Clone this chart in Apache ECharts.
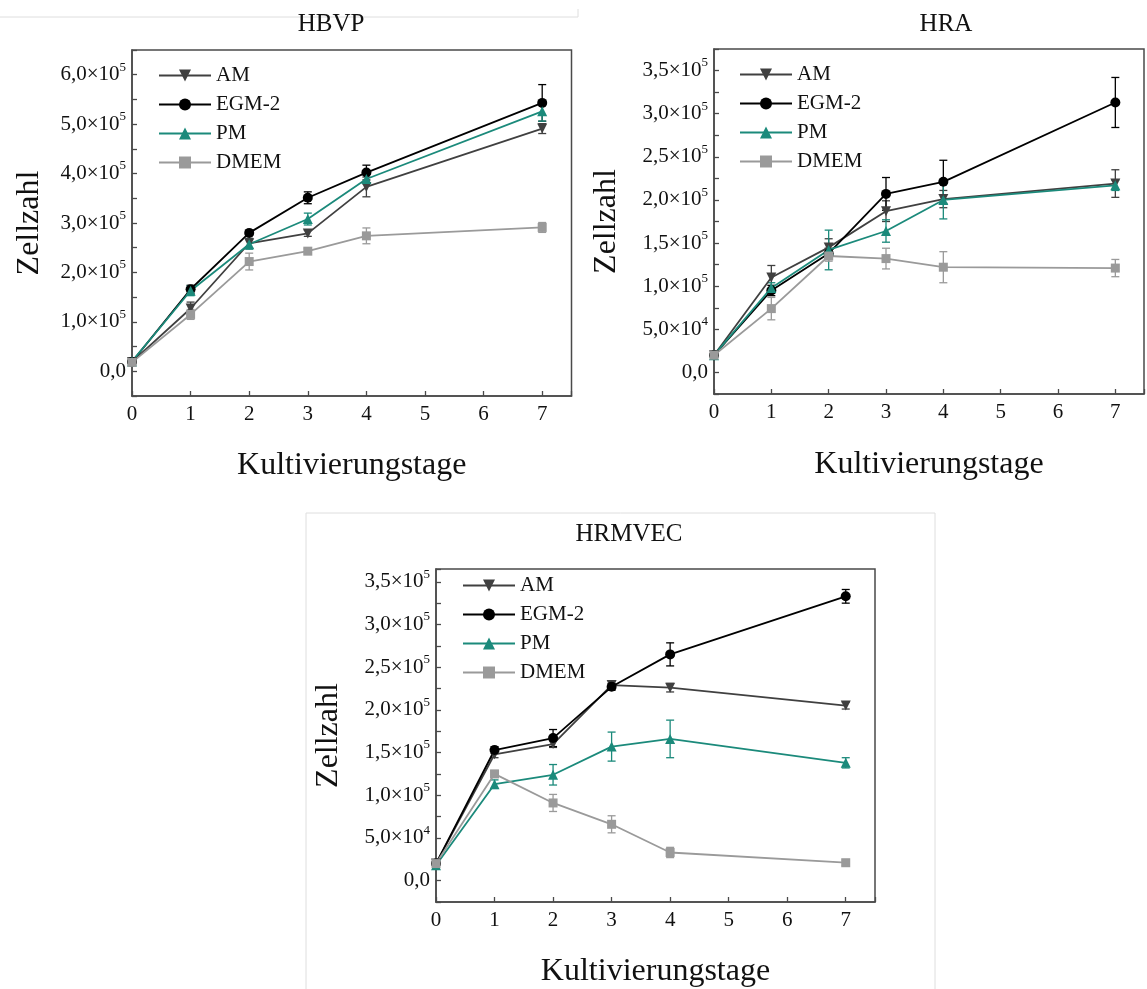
<!DOCTYPE html>
<html><head><meta charset="utf-8">
<script src="https://cdn.jsdelivr.net/npm/echarts@6/dist/echarts.min.js"></script>
<style>html,body{margin:0;padding:0;background:#fff}#c{width:1147px;height:989px}</style>
</head><body><div id="c"></div>
<script>
// ---------- data ----------
const days = [0, 1, 2, 3, 4, 7];
const seriesNames = ['AM', 'EGM-2', 'PM', 'DMEM'];
const panelTitles = ['HBVP', 'HRA', 'HRMVEC'];
const xAxisTitle = 'Kultivierungstage';
const yAxisTitle = 'Zellzahl';

// HBVP
const hbvpAM       = [19000, 127000, 259000, 279000, 373000, 491000];
const hbvpAMErr    = [3000, 13000, 10000, 6000, 20000, 10000];
const hbvpEGM      = [19000, 166000, 280000, 351000, 402000, 543000];
const hbvpEGMErr   = [3000, 8000, 5000, 12000, 15000, 37000];
const hbvpPM       = [20000, 163000, 257000, 308000, 389000, 526000];
const hbvpPMErr    = [3000, 10000, 10000, 12000, 10000, 20000];
const hbvpDMEM     = [18000, 115000, 222000, 243000, 274000, 291000];
const hbvpDMEMErr  = [3000, 10000, 17000, 5000, 16000, 10000];

// HRA
const hraAM        = [20000, 110000, 145000, 187000, 201000, 219000];
const hraAMErr     = [3000, 14000, 10000, 12000, 10000, 16000];
const hraEGM       = [20000, 95000, 138000, 207000, 221000, 313000];
const hraEGMErr    = [3000, 6000, 6000, 19000, 25000, 29000];
const hraPM        = [20000, 98000, 142000, 164000, 200000, 217000];
const hraPMErr     = [3000, 6000, 23000, 13000, 22000, 6000];
const hraDMEM      = [20000, 74000, 135000, 132000, 122000, 121000];
const hraDMEMErr   = [3000, 13000, 6000, 12000, 18000, 10000];

// HRMVEC
const hrmAM        = [20000, 148000, 160000, 229000, 226000, 205000];
const hrmAMErr     = [3000, 4000, 4000, 5000, 5000, 4000];
const hrmEGM       = [20000, 153000, 167000, 227000, 265000, 333000];
const hrmEGMErr    = [3000, 4000, 10000, 4000, 13500, 8000];
const hrmPM        = [18000, 113000, 124000, 157000, 166000, 138000];
const hrmPMErr     = [3000, 5000, 12000, 17000, 22000, 6000];
const hrmDMEM      = [20000, 125000, 91000, 66000, 33000, 21000];
const hrmDMEMErr   = [3000, 4000, 10000, 10000, 6000, 3000];

// ---------- style ----------
const FONT = 'Liberation Serif';
const colors = {'AM': '#404040', 'EGM-2': '#000000', 'PM': '#1b8a7b', 'DMEM': '#9a9a9a'};
const symbols = {'AM': 'triangle', 'EGM-2': 'circle', 'PM': 'triangle', 'DMEM': 'rect'};
const rotates = {'AM': 180, 'EGM-2': 0, 'PM': 0, 'DMEM': 0};
const sizes = {'AM': 10, 'EGM-2': 10, 'PM': 10, 'DMEM': 9};

const panels = [
  {title: panelTitles[0], grid: {left: 132, top: 50, width: 439.5, height: 346},
   titlePos: [331, 12], yMin: -50000, yMax: 650000, yStep: 50000, labelStep: 100000,
   legend: [158, 65], yNameGap: 86, xNameGap: 54,
   data: {'AM': [hbvpAM, hbvpAMErr], 'EGM-2': [hbvpEGM, hbvpEGMErr], 'PM': [hbvpPM, hbvpPMErr], 'DMEM': [hbvpDMEM, hbvpDMEMErr]}},
  {title: panelTitles[1], grid: {left: 714, top: 49, width: 438, height: 345},
   titlePos: [946, 12], yMin: -25000, yMax: 375000, yStep: 25000, labelStep: 50000,
   legend: [739, 64], yNameGap: 91, xNameGap: 55,
   data: {'AM': [hraAM, hraAMErr], 'EGM-2': [hraEGM, hraEGMErr], 'PM': [hraPM, hraPMErr], 'DMEM': [hraDMEM, hraDMEMErr]}},
  {title: panelTitles[2], grid: {left: 436, top: 569, width: 439, height: 335},
   titlePos: [629, 522], yMin: -25000, yMax: 365000, yStep: 25000, labelStep: 50000,
   legend: [462, 575], yNameGap: 91, xNameGap: 54,
   data: {'AM': [hrmAM, hrmAMErr], 'EGM-2': [hrmEGM, hrmEGMErr], 'PM': [hrmPM, hrmPMErr], 'DMEM': [hrmDMEM, hrmDMEMErr]}}
];

function yFormatter(step) {
  return function (v) {
    if (Math.abs(v) < 1) return '{n|0,0}';
    if (v < 0 || Math.round(v) % step !== 0) return '';
    const e = Math.floor(Math.log10(v) + 1e-9);
    const m = v / Math.pow(10, e);
    return '{n|' + m.toFixed(1).replace('.', ',') + '×10}{s|' + e + '}';
  };
}

function renderErr(params, api) {
  const x = api.value(0), lo = api.value(1), hi = api.value(2);
  const t = api.coord([x, hi]), b = api.coord([x, lo]);
  const w = 4;
  const style = {stroke: api.visual('color'), lineWidth: 1.3, fill: null};
  return {type: 'group', children: [
    {type: 'line', shape: {x1: t[0], y1: t[1], x2: b[0], y2: b[1]}, style: style},
    {type: 'line', shape: {x1: t[0] - w, y1: t[1], x2: t[0] + w, y2: t[1]}, style: style},
    {type: 'line', shape: {x1: b[0] - w, y1: b[1], x2: b[0] + w, y2: b[1]}, style: style}
  ]};
}

const grids = [], xAxes = [], yAxes = [], series = [], legends = [], titles = [];
const axisColor = '#4a4a4a';
panels.forEach(function (p, i) {
  grids.push(Object.assign({show: true, borderColor: axisColor, borderWidth: 1.5, backgroundColor: 'transparent'}, p.grid));
  xAxes.push({
    type: 'value', gridIndex: i, min: 0, max: 7.5, interval: 1,
    name: xAxisTitle, nameLocation: 'middle', nameGap: p.xNameGap,
    nameTextStyle: {fontFamily: FONT, fontSize: 32, color: '#111'},
    axisLine: {show: true, onZero: false, lineStyle: {color: axisColor, width: 1.5}},
    axisTick: {show: true, inside: true, length: 5, lineStyle: {color: axisColor, width: 1.3}},
    axisLabel: {fontFamily: FONT, fontSize: 21, color: '#111', margin: 8,
      formatter: function (v) { return Number.isInteger(v) ? String(v) : ''; }},
    splitLine: {show: false}
  });
  yAxes.push({
    type: 'value', gridIndex: i, min: p.yMin, max: p.yMax, interval: p.yStep,
    name: yAxisTitle, nameLocation: 'middle', nameGap: p.yNameGap, nameRotate: 90,
    nameTextStyle: {fontFamily: FONT, fontSize: 32, color: '#111'},
    axisLine: {show: true, onZero: false, lineStyle: {color: axisColor, width: 1.5}},
    axisTick: {show: true, inside: true, length: 5, lineStyle: {color: axisColor, width: 1.3}},
    axisLabel: {fontFamily: FONT, fontSize: 21, color: '#111', margin: 6,
      formatter: yFormatter(p.labelStep),
      rich: {
        n: {fontFamily: FONT, fontSize: 21, color: '#111', lineHeight: 28},
        s: {fontFamily: FONT, fontSize: 13, color: '#111', lineHeight: 13, verticalAlign: 'top'}
      }},
    splitLine: {show: false}
  });
  titles.push({text: p.title, left: p.titlePos[0], top: p.titlePos[1], textAlign: 'center', padding: 0,
    textStyle: {fontFamily: FONT, fontSize: 25, fontWeight: 'normal', color: '#111'}});
  legends.push({
    data: seriesNames, orient: 'vertical', left: p.legend[0], top: p.legend[1],
    itemWidth: 52, itemHeight: 15, itemGap: 8, padding: 0, selectedMode: false,
    textStyle: {fontFamily: FONT, fontSize: 21, color: '#111', lineHeight: 21, padding: [0, 0, 0, 0]}
  });
  seriesNames.forEach(function (name) {
    const vals = p.data[name][0], errs = p.data[name][1];
    series.push({
      name: name, type: 'line', xAxisIndex: i, yAxisIndex: i, z: 3,
      data: days.map(function (d, k) { return [d, vals[k]]; }),
      symbol: symbols[name], symbolRotate: rotates[name], symbolSize: sizes[name],
      showAllSymbol: true, clip: false,
      lineStyle: {color: colors[name], width: 1.8},
      itemStyle: {color: colors[name]}
    });
    series.push({
      name: name + ' SD', type: 'custom', xAxisIndex: i, yAxisIndex: i, z: 2,
      renderItem: renderErr, itemStyle: {color: colors[name]},
      encode: {x: 0, y: [1, 2]},
      data: days.map(function (d, k) { return [d, vals[k] - errs[k], vals[k] + errs[k]]; })
    });
  });
});

const chart = echarts.init(document.getElementById('c'), null, {renderer: 'canvas'});
chart.setOption({
  backgroundColor: '#ffffff',
  animation: false,
  title: titles,
  legend: legends,
  grid: grids,
  xAxis: xAxes,
  yAxis: yAxes,
  series: series,
  graphic: [
    {type: 'line', shape: {x1: 0, y1: 17, x2: 578, y2: 17}, style: {stroke: '#dedede', lineWidth: 1}},
    {type: 'line', shape: {x1: 578, y1: 9, x2: 578, y2: 17}, style: {stroke: '#dedede', lineWidth: 1}},
    {type: 'polyline', shape: {points: [[306, 989], [306, 513], [935, 513], [935, 989]]}, style: {stroke: '#dedede', lineWidth: 1, fill: null}}
  ]
});
</script></body></html>
